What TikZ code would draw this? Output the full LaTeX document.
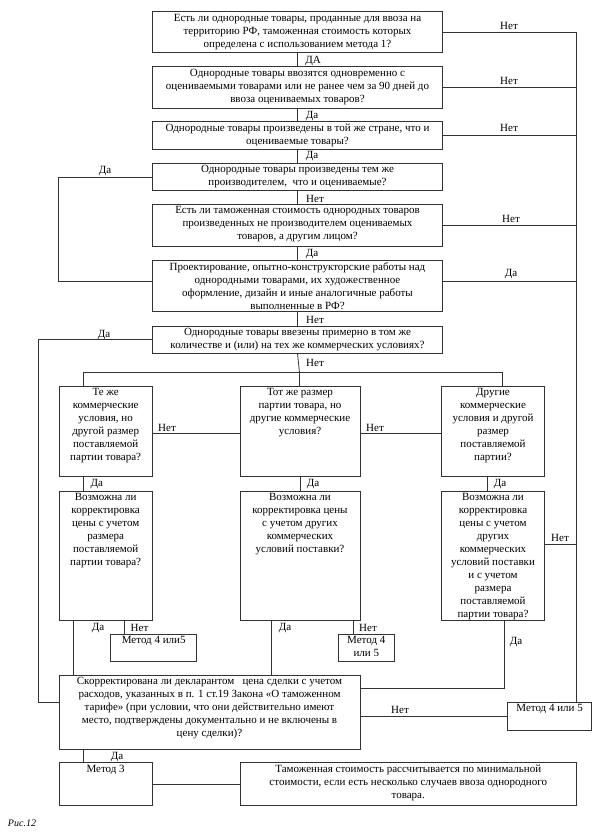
\documentclass[tikz,border=0pt]{standalone}
\usepackage{fontspec}
\setmainfont{Liberation Serif}
\newcommand\mybox[5]{\node[box, anchor=north west, minimum width={#4-#2}, minimum height={#5-#3}] (#1) at (#2,#3) {};}
\newcommand\mytext[3]{\node[txt, anchor=north] (#1t) at ([yshift=-2pt]#1.north) {#3};}
\begin{document}
\begin{tikzpicture}[x=1pt,y=-1pt,
  box/.style={draw=black!80, line width=0.8pt, inner sep=0pt, outer sep=0pt, rectangle},
  txt/.style={align=center, inner sep=0pt, font=\fontsize{11}{13}\selectfont},
  lbl/.style={inner sep=0pt, font=\fontsize{11}{13}\selectfont},
  conn/.style={draw=black!80, line width=0.8pt}]
\useasboundingbox (0,0) rectangle (601,836);
% boxes
\mybox{b1}{152.3}{11.7}{442.7}{52.7}
\mybox{b2}{152.3}{66.7}{442.7}{108.3}
\mybox{b3}{152.3}{121.7}{442.7}{149}
\mybox{b4}{152.3}{163.3}{442.7}{190.7}
\mybox{b5}{152.3}{204.3}{442.7}{246}
\mybox{b6}{152.3}{260}{442.7}{311.7}
\mybox{b7}{152.3}{326}{442.7}{353.3}
\mybox{a1}{59}{386}{152.3}{476.7}
\mybox{bb1}{240}{386}{360}{476.7}
\mybox{c1}{441.7}{386}{544.3}{476.7}
\mybox{a2}{59}{491}{152.3}{620.7}
\mybox{bb2}{240}{491}{360}{620.7}
\mybox{c2}{441.7}{491}{544.3}{620.7}
\mybox{m1}{110.7}{634.3}{196.7}{661}
\mybox{m2}{338.3}{634.3}{394.3}{661}
\mybox{big}{59}{675}{360}{749}
\mybox{m3}{507.7}{702.5}{591.5}{730.5}
\mybox{met}{59}{762.7}{152.3}{805}
\mybox{fin}{240}{762.7}{576.5}{805}
% texts
\mytext{b1}{}{Есть ли однородные товары, проданные для ввоза на\\территорию РФ, таможенная стоимость которых\\определена с использованием метода 1?}
\mytext{b2}{}{Однородные товары ввозятся одновременно с\\оцениваемыми товарами или не ранее чем за 90 дней до\\ввоза оцениваемых товаров?}
\mytext{b3}{}{Однородные товары произведены в той же стране, что и\\оцениваемые товары?}
\mytext{b4}{}{Однородные товары произведены тем же\\производителем,\ \ что и оцениваемые?}
\mytext{b5}{}{Есть ли таможенная стоимость однородных товаров\\произведенных не производителем оцениваемых\\товаров, а другим лицом?}
\mytext{b6}{}{Проектирование, опытно-конструкторские работы над\\однородными товарами, их художественное\\оформление, дизайн и иные аналогичные работы\\выполненные в РФ?}
\mytext{b7}{}{Однородные товары ввезены примерно в том же\\количестве и (или) на тех же коммерческих условиях?}
\mytext{a1}{}{Те же\\коммерческие\\условия, но\\другой размер\\поставляемой\\партии товара?}
\mytext{bb1}{}{Тот же размер\\партии товара, но\\другие коммерческие\\условия?}
\mytext{c1}{}{Другие\\коммерческие\\условия и другой\\размер\\поставляемой\\партии?}
\mytext{a2}{}{Возможна ли\\корректировка\\цены с учетом\\размера\\поставляемой\\партии товара?}
\mytext{bb2}{}{Возможна ли\\корректировка цены\\с учетом других\\коммерческих\\условий поставки?}
\mytext{c2}{}{Возможна ли\\корректировка\\цены с учетом\\других\\коммерческих\\условий поставки\\и с учетом\\размера\\поставляемой\\партии товара?}
\mytext{m1}{}{Метод 4 или5}
\mytext{m2}{}{Метод 4\\или 5}
\mytext{big}{}{Скорректирована ли декларантом\ \ \ цена сделки с учетом\\расходов, указанных в п. 1 ст.19 Закона «О таможенном\\тарифе» (при условии, что они действительно имеют\\место, подтверждены документально и не включены в\\цену сделки)?}
\mytext{m3}{}{Метод 4 или 5}
\mytext{met}{}{Метод 3}
\mytext{fin}{}{Таможенная стоимость рассчитывается по минимальной\\стоимости, если есть несколько случаев ввоза однородного\\товара.}
% helper coordinates
\coordinate (xr) at (576.7,0);
\coordinate (br) at (299.5,372.7);
% central chain
\draw[conn] (b1.south) -- (b2.north);
\draw[conn] (b2.south) -- (b3.north);
\draw[conn] (b3.south) -- (b4.north);
\draw[conn] (b4.south) -- (b5.north);
\draw[conn] (b5.south) -- (b6.north);
\draw[conn] (b6.south) -- (b7.north);
\draw[conn] (b7.south) -- (br);
% right side "no" lines
\coordinate (m3top) at (576.7,702.5);
\draw[conn] (b1.east) -- (b1.east -| xr) -- (m3top);
\draw[conn] (b2.east) -- (b2.east -| xr);
\draw[conn] (b3.east) -- (b3.east -| xr);
\draw[conn] (b5.east) -- (b5.east -| xr);
\draw[conn] (b6.east |- 0,281) -- (576.7,281);
\draw[conn] (c2.east |- 0,544) -- (576.7,544);
% left side
\draw[conn] (b4.west) -- (b4.west -| 58.8,0) -- (58.8,281) -- (b6.west |- 0,281);
\draw[conn] (b7.west) -- (b7.west -| 38.4,0) -- (38.4,702.5) -- (big.west |- 0,702.5);
% branch
\draw[conn] (a1.north -| 83.3,0) -- (83.3,372.7) -- (502,372.7) -- (c1.north -| 502,0);
\draw[conn] (br) -- (bb1.north -| br);
% row connections
\draw[conn] (a1.south -| 83.3,0) -- (a2.north -| 83.3,0);
\draw[conn] (bb1.south -| 300,0) -- (bb2.north -| 300,0);
\draw[conn] (c1.south -| 487,0) -- (c2.north -| 487,0);
\draw[conn] (a1.east |- 0,433.3) -- (bb1.west |- 0,433.3);
\draw[conn] (bb1.east |- 0,433.3) -- (c1.west |- 0,433.3);
% bottom of second row
\draw[conn] (a2.south -| 73,0) -- (big.north -| 73,0);
\draw[conn] (a2.south -| 124.3,0) -- (m1.north -| 124.3,0);
\draw[conn] (bb2.south -| 271,0) -- (big.north -| 271,0);
\draw[conn] (bb2.south -| 353.3,0) -- (m2.north -| 353.3,0);
\draw[conn] (c2.south -| 504,0) -- (504,688.3) -- (big.east |- 0,688.3);
\draw[conn] (big.east |- 0,716.7) -- (m3.west |- 0,716.7);
\draw[conn] (big.south -| 83.3,0) -- (met.north -| 83.3,0);
\draw[conn] (met.east |- 0,784) -- (fin.west |- 0,784);
% labels
\node[lbl] (l1) at (313,61) {ДА};
\node[lbl] (l2) at (312,116) {Да};
\node[lbl] (l3) at (312,156) {Да};
\node[lbl] (l4) at (315,198.7) {Нет};
\node[lbl] (l5) at (312,254) {Да};
\node[lbl] (l6) at (315,320) {Нет};
\node[lbl] (l7) at (315,363.3) {Нет};
\node[lbl] (r1) at (509,25.5) {Нет};
\node[lbl] (r2) at (509,80.5) {Нет};
\node[lbl] (r3) at (509,128.3) {Нет};
\node[lbl] (r5) at (511,219) {Нет};
\node[lbl] (r6) at (511,274) {Да};
\node[lbl] (lf4) at (105,171) {Да};
\node[lbl] (lf7) at (104,335) {Да};
\node[lbl] (n1) at (167,428) {Нет};
\node[lbl] (n2) at (375,428) {Нет};
\node[lbl] (d1) at (96.7,484.3) {Да};
\node[lbl] (d2) at (313,484.3) {Да};
\node[lbl] (d3) at (500,484.3) {Да};
\node[lbl] (d4) at (98,628.3) {Да};
\node[lbl] (n4) at (139.5,628.3) {Нет};
\node[lbl] (d5) at (285,628.3) {Да};
\node[lbl] (n5) at (368,628.3) {Нет};
\node[lbl] (d6) at (516,642) {Да};
\node[lbl] (n6) at (560,538) {Нет};
\node[lbl] (n7) at (400,710) {Нет};
\node[lbl] (d7) at (117,756.7) {Да};
\node[lbl, font=\itshape\fontsize{10}{12}\selectfont] (cap) at (22,823.3) {Рис.12};
\end{tikzpicture}
\end{document}
